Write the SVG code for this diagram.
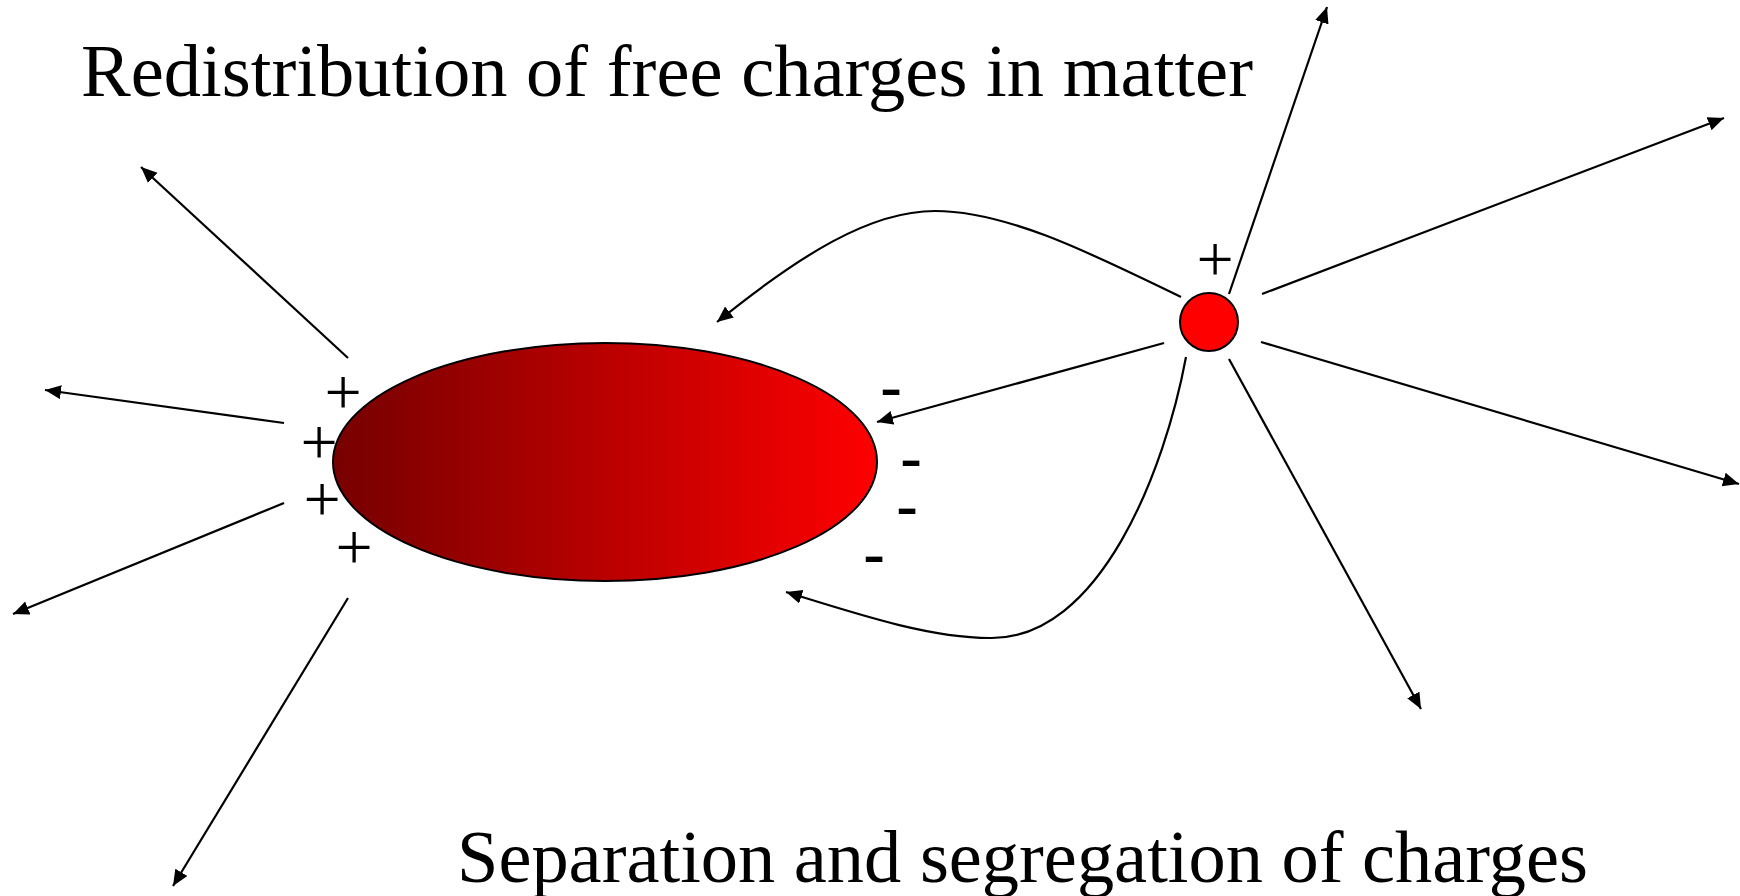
<svg xmlns="http://www.w3.org/2000/svg" width="1740" height="896" viewBox="0 0 1740 896">
<style>
.title{font-family:"Liberation Serif","Times New Roman",serif;font-size:75px;fill:#000}
.plus{font-family:"Liberation Serif","Times New Roman",serif;font-size:66px;fill:#000;text-anchor:middle}
.minus{font-family:"Liberation Sans",Arial,sans-serif;font-size:68px;fill:#000;text-anchor:middle}
.conn{fill:none;stroke:#000;stroke-width:2.2;marker-end:url(#ah)}
</style>
<defs>
<linearGradient id="grad" x1="0" y1="0" x2="1" y2="0">
<stop offset="0" stop-color="#780000"/>
<stop offset="0.08" stop-color="#800000"/>
<stop offset="1" stop-color="#ff0000"/>
</linearGradient>
<marker id="ah" markerUnits="userSpaceOnUse" markerWidth="18" markerHeight="16" refX="16" refY="7" orient="auto">
<path d="M0,0 L16,7 L0,14 z" fill="#000"/>
</marker>
</defs>
<rect width="1740" height="896" fill="#fff"/>
<g id="title-top"><text class="title" x="81" y="96" textLength="1172" lengthAdjust="spacingAndGlyphs">Redistribution of free charges in matter</text></g>
<g id="title-bottom"><text class="title" x="457" y="882" textLength="1131" lengthAdjust="spacingAndGlyphs">Separation and segregation of charges</text></g>
<g id="body"><ellipse cx="605" cy="462" rx="272" ry="119" fill="url(#grad)" stroke="#000" stroke-width="2"/></g>
<g id="charge"><circle cx="1209" cy="322" r="29" fill="#ff0000" stroke="#000" stroke-width="2"/></g>
<g id="plus-signs">
<text class="plus" x="343" y="413.5">+</text>
<text class="plus" x="319" y="463.5">+</text>
<text class="plus" x="322" y="520.5">+</text>
<text class="plus" x="354" y="568.5">+</text>
<text class="plus" x="1215" y="280.5">+</text>
</g>
<g id="minus-signs">
<text class="minus" x="891" y="411">-</text>
<text class="minus" x="911" y="482">-</text>
<text class="minus" x="907" y="530">-</text>
<text class="minus" x="874" y="578">-</text>
</g>
<g id="connectors">
<line class="conn" x1="348" y1="358" x2="141" y2="167"/>
<line class="conn" x1="284" y1="423" x2="45" y2="390"/>
<line class="conn" x1="284" y1="503" x2="13" y2="614"/>
<line class="conn" x1="348" y1="598" x2="173" y2="886"/>
<line class="conn" x1="1229" y1="294" x2="1327" y2="7"/>
<line class="conn" x1="1262" y1="294" x2="1724" y2="118"/>
<line class="conn" x1="1261" y1="342" x2="1739" y2="484"/>
<line class="conn" x1="1229" y1="359" x2="1421" y2="709"/>
<line class="conn" x1="1164" y1="343" x2="877" y2="422"/>
<path class="conn" d="M1181,297 C1100,258 1010,211 935,211 C870,211 800,255 717,322"/>
<path class="conn" d="M1186,357 C1165,470 1100,640 990,638 C930,638 860,615 786,592"/>
</g>
</svg>
